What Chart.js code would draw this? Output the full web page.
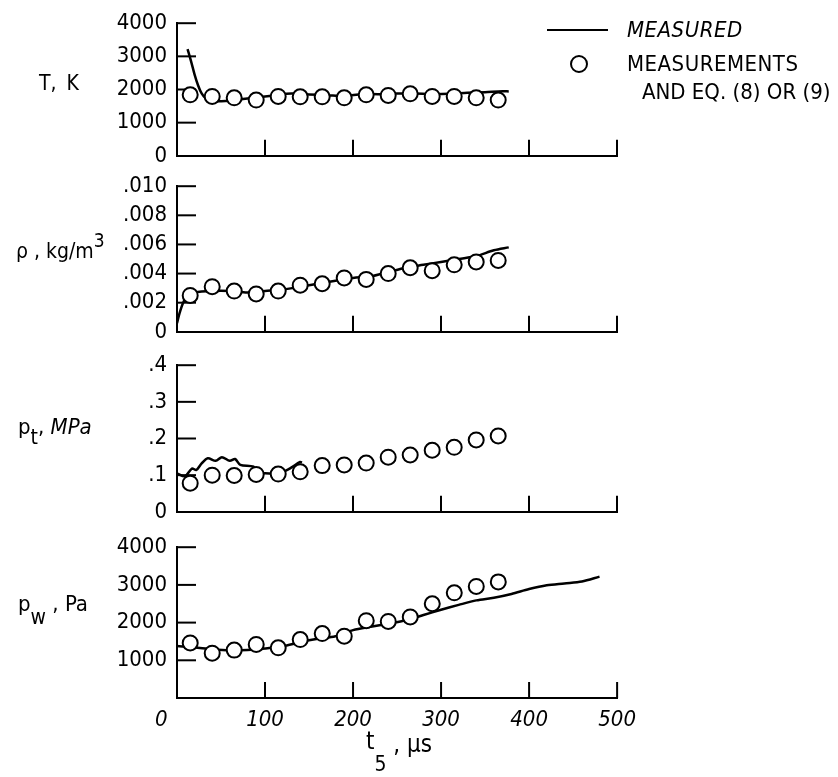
<!DOCTYPE html>
<html><head><meta charset="utf-8">
<script src="https://cdn.jsdelivr.net/npm/chart.js@4.4.1/dist/chart.umd.min.js"></script>
<style>
html,body{margin:0;padding:0;background:#fff;}
#wrap{position:relative;width:838px;height:777px;overflow:hidden;background:#fff;font-family:'Liberation Sans Narrow','DejaVu Sans Condensed',sans-serif;color:#000;}
canvas{position:absolute;left:0;}
.lbl{position:absolute;white-space:nowrap;line-height:1;}
.sub{position:relative;}
</style></head><body>
<div id="wrap">
<canvas id="c1" width="640" height="179" style="top:0px"></canvas>
<canvas id="c2" width="640" height="192" style="top:163px"></canvas>
<canvas id="c3" width="640" height="193" style="top:342px"></canvas>
<canvas id="c4" width="645" height="216" style="top:524px"></canvas>

<div class="lbl" style="left:39px;top:73px;font-size:21px;word-spacing:4px">T, K</div>
<div class="lbl" style="left:16px;top:241px;font-size:21px;">ρ , kg/m<span class="sub" style="font-size:19px;top:-11px">3</span></div>
<div class="lbl" style="left:18px;top:416px;font-size:22px;">p<span class="sub" style="font-size:21px;top:10px">t</span>, <i>MPa</i></div>
<div class="lbl" style="left:18px;top:593px;font-size:22px;">p<span class="sub" style="font-size:21px;top:13px">w</span> , Pa</div>
<div class="lbl" style="left:366px;top:729px;font-size:24px;">t<span class="sub" style="font-size:21px;top:22px">5</span><span class="sub" style="top:3px"> , µs</span></div>

<div style="position:absolute;left:547px;top:29px;width:61px;height:2px;background:#000"></div>
<div style="position:absolute;left:570px;top:55px;width:14px;height:14px;border:2px solid #000;border-radius:50%;background:#fff"></div>
<div class="lbl" style="left:627px;top:19px;font-size:22px;font-style:italic;letter-spacing:0.5px">MEASURED</div>
<div class="lbl" style="left:627px;top:53px;font-size:22px;letter-spacing:0.5px">MEASUREMENTS</div>
<div class="lbl" style="left:642px;top:81px;font-size:22px;">AND EQ. (8) OR (9)</div>
</div>
<script>
// ---- data ----
const xTickValues = [0, 100, 200, 300, 400, 500];
const xTickLabels = ['0\u2007\u2007 ', '100', '200', '300', '400', '500'];

const circleTimes = [15, 40, 65, 90, 115, 140, 165, 190, 215, 240, 265, 290, 315, 340, 365];

const T_ticks = [0, 1000, 2000, 3000, 4000];
const T_tickLabels = ['0', '1000', '2000', '3000', '4000'];
const T_circles = [1840, 1790, 1750, 1680, 1790, 1780, 1780, 1750, 1840, 1820, 1870, 1790, 1790, 1750, 1680];
const T_lineTimes = [12, 16, 20, 24, 28, 33, 40, 55, 70, 90, 110, 130, 150, 170, 190, 210, 230, 250, 270, 290, 310, 330, 350, 370, 377];
const T_lineVals = [3220, 2850, 2450, 2120, 1880, 1720, 1650, 1650, 1700, 1760, 1820, 1880, 1850, 1830, 1800, 1860, 1860, 1880, 1880, 1860, 1870, 1900, 1920, 1950, 1940];

const rho_ticks = [0, 0.002, 0.004, 0.006, 0.008, 0.010];
const rho_tickLabels = ['0', '.002', '.004', '.006', '.008', '.010'];
const rho_circles = [0.0025, 0.0031, 0.0028, 0.0026, 0.0028, 0.0032, 0.0033, 0.0037, 0.0036, 0.0040, 0.0044, 0.0042, 0.0046, 0.0048, 0.0049];
const rho_lineTimes = [0, 3, 7, 12, 20, 40, 60, 80, 100, 120, 140, 160, 180, 200, 220, 240, 260, 280, 300, 320, 340, 360, 377];
const rho_lineVals = [0.0006, 0.0013, 0.0020, 0.0025, 0.0027, 0.0028, 0.0028, 0.0027, 0.0028, 0.0029, 0.0031, 0.0033, 0.0035, 0.0037, 0.0038, 0.0041, 0.0044, 0.0046, 0.0048, 0.0050, 0.0052, 0.0056, 0.0058];

const pt_ticks = [0, 0.1, 0.2, 0.3, 0.4];
const pt_tickLabels = ['0', '.1', '.2', '.3', '.4'];
const pt_circles = [0.078, 0.100, 0.099, 0.102, 0.103, 0.109, 0.126, 0.128, 0.133, 0.149, 0.155, 0.168, 0.176, 0.196, 0.207];
const pt_lineTimes = [0, 9, 17, 22, 28, 35, 44, 51, 60, 66, 72, 87, 91, 100, 116, 128, 140, 142];
const pt_lineVals = [0.105, 0.097, 0.118, 0.114, 0.132, 0.146, 0.139, 0.149, 0.139, 0.144, 0.128, 0.123, 0.105, 0.105, 0.105, 0.118, 0.136, 0.134];

const pw_ticks = [0, 1000, 2000, 3000, 4000];
const pw_tickLabels = ['', '1000', '2000', '3000', '4000'];
const pw_circles = [1460, 1190, 1270, 1420, 1330, 1550, 1710, 1640, 2050, 2030, 2150, 2500, 2790, 2960, 3080];
const pw_lineTimes = [0, 20, 40, 60, 80, 100, 120, 140, 160, 180, 200, 220, 240, 260, 280, 300, 320, 340, 360, 380, 400, 420, 440, 460, 480];
const pw_lineVals = [1380, 1340, 1290, 1260, 1270, 1310, 1370, 1480, 1570, 1640, 1800, 1890, 1970, 2060, 2200, 2340, 2470, 2590, 2660, 2760, 2890, 2990, 3040, 3090, 3220];

// ---- drawing ----
const FONT = "'Liberation Sans Narrow','DejaVu Sans Condensed',sans-serif";

const inwardTicks = {
  id: 'inwardTicks',
  beforeDatasetsDraw(chart) {
    const {ctx, chartArea: a, scales: {x, y}} = chart;
    ctx.save();
    ctx.strokeStyle = '#000';
    ctx.lineWidth = 2;
    y.ticks.forEach(t => {
      if (t.value === y.min) return;
      const py = y.getPixelForValue(t.value);
      ctx.beginPath(); ctx.moveTo(a.left, py); ctx.lineTo(a.left + 19, py); ctx.stroke();
    });
    x.ticks.forEach(t => {
      if (t.value === x.min) return;
      const px = x.getPixelForValue(t.value);
      ctx.beginPath(); ctx.moveTo(px, a.bottom); ctx.lineTo(px, a.bottom - 16); ctx.stroke();
    });
    ctx.restore();
  }
};

function panel(id, o) {
  const datasets = [{
    label: 'MEASUREMENTS AND EQ. (8) OR (9)',
    data: circleTimes.map((t, i) => ({x: t, y: o.circles[i]})),
    showLine: false,
    pointRadius: 7.5,
    pointBorderWidth: 2,
    pointBackgroundColor: '#fff',
    pointBorderColor: '#000'
  }, {
    label: 'MEASURED',
    data: o.lineTimes.map((t, i) => ({x: t, y: o.lineVals[i]})),
    showLine: true,
    pointRadius: 0,
    borderColor: '#000',
    borderWidth: 2.5,
    tension: 0.3
  }];
  return new Chart(document.getElementById(id), {
    type: 'scatter',
    data: {datasets},
    options: {
      responsive: false, animation: false, devicePixelRatio: 1,
      layout: {padding: {top: 20, right: 23, bottom: 0, left: 0}},
      plugins: {legend: {display: false}, tooltip: {enabled: false}},
      scales: {
        x: {
          type: 'linear', min: 0, max: 500,
          afterBuildTicks: s => { s.ticks = xTickValues.map(v => ({value: v})); },
          grid: {display: false, drawTicks: false},
          border: {display: true, color: '#000', width: 2},
          ticks: {display: o.showX, padding: 9, color: '#000', autoSkip: false, maxRotation: 0,
            font: {family: FONT, size: 22, style: 'italic'},
            callback: (v, i) => xTickLabels[i]},
          afterFit: s => { s.height = o.xh; }
        },
        y: {
          type: 'linear', min: o.ticks[0], max: o.ticks[o.ticks.length - 1],
          afterBuildTicks: s => { s.ticks = o.ticks.map(v => ({value: v})); },
          grid: {display: false, drawTicks: false},
          border: {display: true, color: '#000', width: 2},
          ticks: {padding: 10, color: '#000', autoSkip: false,
            font: {family: FONT, size: 22},
            callback: (v, i) => o.tickLabels[i]},
          afterFit: s => { s.width = 177; }
        }
      }
    },
    plugins: [inwardTicks]
  });
}

panel('c1', {circles: T_circles, lineTimes: T_lineTimes, lineVals: T_lineVals, ticks: T_ticks, tickLabels: T_tickLabels, showX: false, xh: 20});
panel('c2', {circles: rho_circles, lineTimes: rho_lineTimes, lineVals: rho_lineVals, ticks: rho_ticks, tickLabels: rho_tickLabels, showX: false, xh: 20});
panel('c3', {circles: pt_circles, lineTimes: pt_lineTimes, lineVals: pt_lineVals, ticks: pt_ticks, tickLabels: pt_tickLabels, showX: false, xh: 20});
panel('c4', {circles: pw_circles, lineTimes: pw_lineTimes, lineVals: pw_lineVals, ticks: pw_ticks, tickLabels: pw_tickLabels, showX: true, xh: 42});
</script>
</body></html>
